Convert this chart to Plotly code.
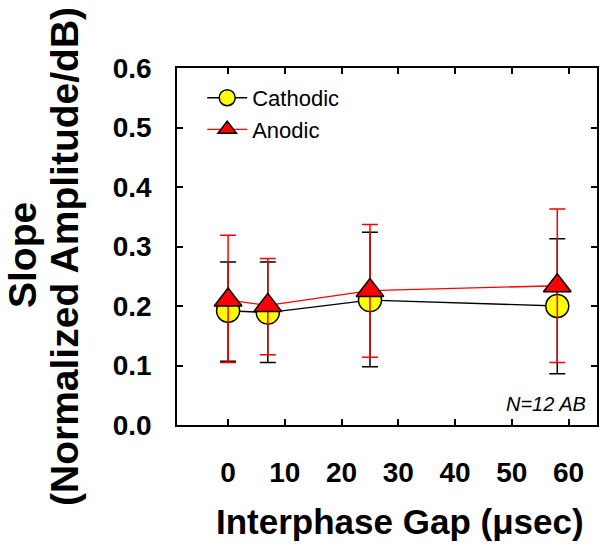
import plotly.graph_objects as go

# ---- data ----
gap_us = [0, 7, 25, 58]

cathodic_mean = [0.192, 0.189, 0.210, 0.200]
cathodic_upper = [0.274, 0.274, 0.324, 0.313]
cathodic_lower = [0.107, 0.105, 0.098, 0.086]

anodic_mean = [0.210, 0.201, 0.226, 0.234]
anodic_upper = [0.319, 0.280, 0.337, 0.363]
anodic_lower = [0.105, 0.118, 0.114, 0.105]

x_ticks = [0, 10, 20, 30, 40, 50, 60]
y_ticks = [0.0, 0.1, 0.2, 0.3, 0.4, 0.5, 0.6]

FONT = "Liberation Sans, Arial, sans-serif"

def plus(m, u):
    return [b - a for a, b in zip(m, u)]

def minus(m, l):
    return [a - b for a, b in zip(m, l)]

fig = go.Figure()

fig.add_trace(go.Scatter(
    x=gap_us, y=cathodic_mean, name="Cathodic", mode="lines+markers",
    line=dict(color="black", width=1.3),
    marker=dict(symbol="circle", size=23, color="#FFFF00",
                line=dict(color="black", width=1.5)),
    error_y=dict(type="data", array=plus(cathodic_mean, cathodic_upper),
                 arrayminus=minus(cathodic_mean, cathodic_lower),
                 color="black", thickness=1.5, width=8),
))

fig.add_trace(go.Scatter(
    x=gap_us, y=anodic_mean, name="Anodic", mode="lines+markers",
    line=dict(color="#FF0000", width=1.3),
    marker=dict(symbol="triangle-up", size=24, color="#FF0000",
                line=dict(color="black", width=1.5)),
    error_y=dict(type="data", array=plus(anodic_mean, anodic_upper),
                 arrayminus=minus(anodic_mean, anodic_lower),
                 color="#FF0000", thickness=1.5, width=8),
))

axis_common = dict(
    showline=True, linecolor="black", linewidth=1.5, mirror="ticks",
    ticks="inside", ticklen=6, tickwidth=1.5, tickcolor="black",
    showgrid=False, zeroline=False,
    tickfont=dict(family=FONT, size=28, color="black", weight="bold"),
)

fig.update_xaxes(range=[-9, 65], tickvals=x_ticks, ticklabelstandoff=22,
                 **axis_common)
fig.update_yaxes(range=[0, 0.6], tickvals=y_ticks, tickformat=".1f",
                 ticklabelstandoff=18, **axis_common)

fig.update_layout(
    width=600, height=547,
    margin=dict(l=177, r=1, t=68, b=122),
    plot_bgcolor="white", paper_bgcolor="white",
    font=dict(family=FONT, color="black"),
    showlegend=True,
    legend=dict(x=0.06, y=0.975, xanchor="left", yanchor="top",
                bgcolor="rgba(0,0,0,0)", borderwidth=0,
                font=dict(family=FONT, size=22, color="black"),
                itemwidth=40),
    annotations=[
        dict(text="Slope", xref="paper", yref="paper", x=0, y=(425 - 255) / 357,
             xshift=22 - 177, xanchor="center", yanchor="middle", textangle=-90,
             showarrow=False, font=dict(family=FONT, size=39, weight="bold", color="black")),
        dict(text="(Normalized Amplitude/dB)", xref="paper", yref="paper", x=0,
             y=(425 - 257) / 357, xshift=64 - 177, xanchor="center", yanchor="middle",
             textangle=-90, showarrow=False,
             font=dict(family=FONT, size=39, weight="bold", color="black")),
        dict(text="Interphase Gap (\u03bcsec)", xref="paper", yref="paper",
             x=(401.5 - 177) / 422, y=0, yshift=-96, xanchor="center", yanchor="middle",
             showarrow=False, font=dict(family=FONT, size=35, weight="bold", color="black")),
        dict(text="<i>N=12 AB</i>", xref="paper", yref="paper",
             x=(590 - 177) / 422, y=(425 - 404) / 357, xanchor="right", yanchor="middle",
             showarrow=False, font=dict(family=FONT, size=20, color="black")),
    ],
)

fig.write_html("out.html", config={"displayModeBar": False},
               post_script="document.body.style.margin='0px';")
